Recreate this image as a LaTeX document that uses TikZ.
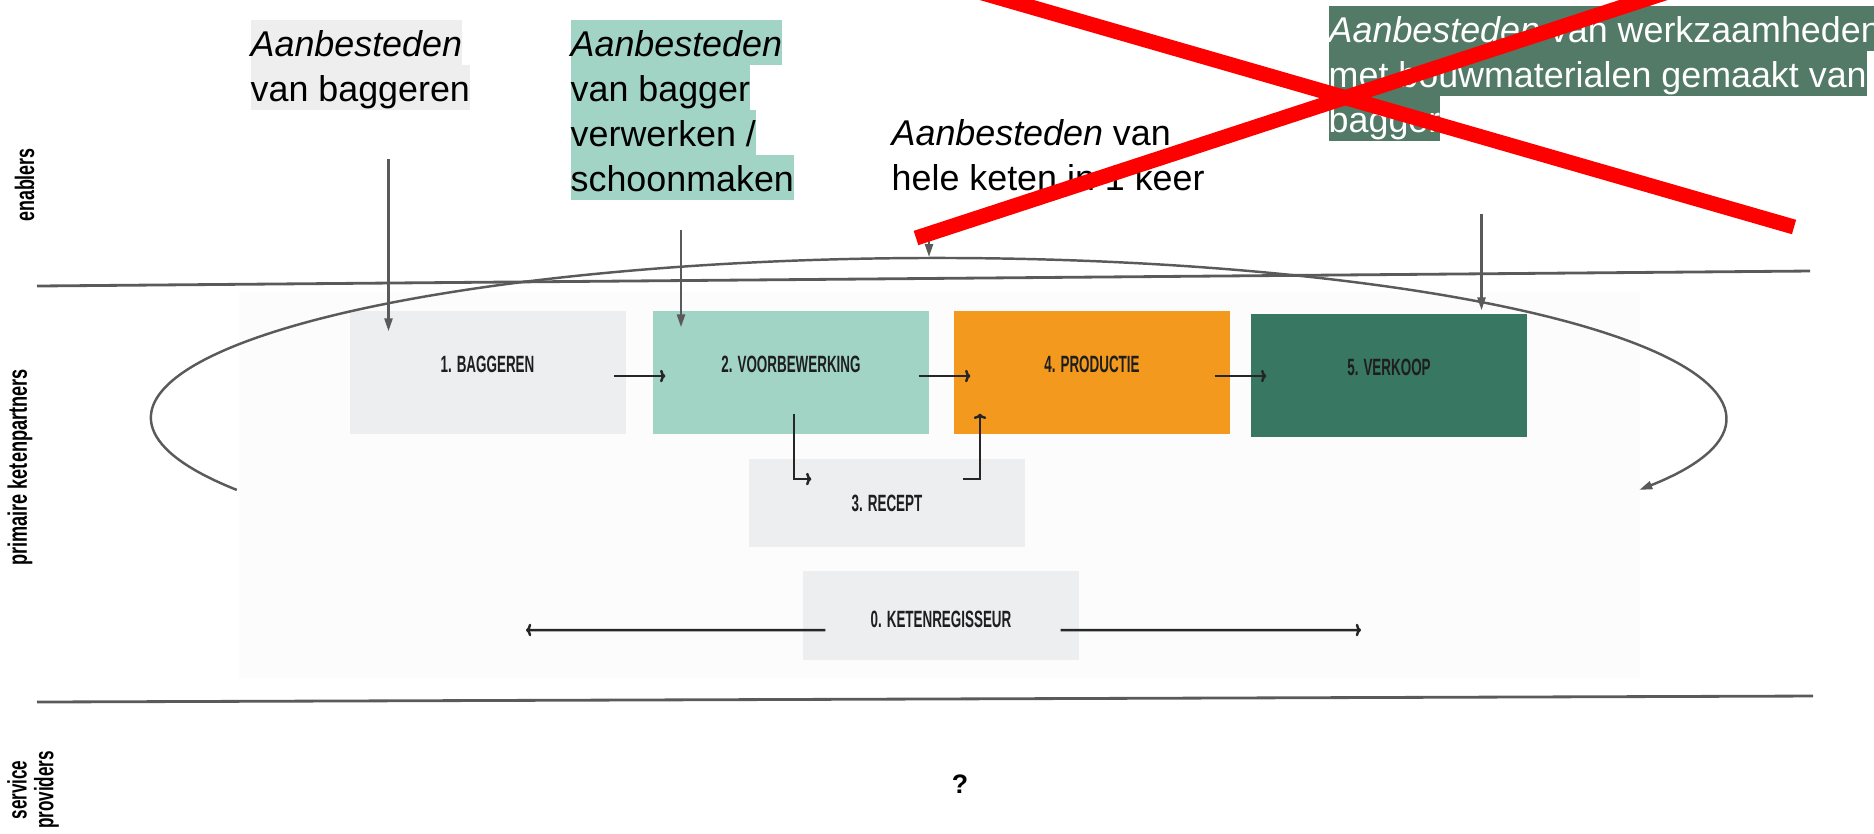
\documentclass[tikz,border=0pt]{standalone}
\usepackage{fontspec}
\setmainfont{Liberation Sans}
\usepackage{graphicx}
\usepackage{tikz}
\usetikzlibrary{calc, arrows.meta}
\usepackage{xcolor}
\definecolor{lichtgrijs}{HTML}{EDEEF0}
\definecolor{mint}{HTML}{A2D4C6}
\definecolor{oranje}{HTML}{F39A1E}
\definecolor{donkergroen}{HTML}{387862}
\definecolor{grijsgroen}{HTML}{527A66}
\definecolor{labelgrijs}{HTML}{EEEEEE}
\definecolor{lijngrijs}{HTML}{5A5A5A}
\definecolor{vlak}{HTML}{FCFCFC}
\definecolor{tekst}{HTML}{1E1E1E}

\newcommand{\tstrut}{\rule[-2.4pt]{0pt}{12.8pt}}
\newcommand{\hl}[2]{{\setlength{\fboxsep}{0pt}\colorbox{#1}{\tstrut#2}}}
\newcommand{\smal}[2]{\scalebox{#1}[1]{#2}}

\begin{document}
\begin{tikzpicture}[
	blok/.style={minimum width=2.76cm, inner sep=0pt, text=tekst, font=\fontsize{6.7}{8}\selectfont\bfseries},
	stap/.style={blok, minimum height=1.23cm, text height=4.8pt, text depth=4.8pt},
	conn/.style={draw=black!85, line width=0.7pt, -{To[length=1.5pt,width=3.6pt]}},
	feed/.style={draw=lijngrijs, line width=0.7pt, -{Triangle[length=1.3mm,width=0.8mm]}},
	kop/.style={inner sep=0pt, anchor=north west, align=left, font=\fontsize{10.2}{12.8}\selectfont},
	zij/.style={rotate=90, inner sep=0pt, align=center, font=\fontsize{7.6}{7.6}\selectfont\bfseries},
	scheiding/.style={draw=lijngrijs, line width=0.8pt},
	kruis/.style={draw=red, line width=0.15cm}]
		\useasboundingbox (0,0) rectangle (18.74,-8.33);
		\fill[vlak] (2.39,-2.92) rectangle (16.40,-6.78);
		\draw[scheiding] (0.37,-2.86) -- (18.10,-2.71);
		\draw[scheiding] (0.37,-7.02) -- (18.13,-6.96);
		% lagen
		\node[zij] (enab) at (0.245,-1.85) {\smal{0.67}{enablers}};
		\node[zij] (prim) at (0.20,-4.675) {\smal{0.68}{primaire ketenpartners}};
		\node[zij] (serv) at (0.33,-7.90) {\smal{0.64}{service}\\\smal{0.64}{providers}};
		\node[font=\fontsize{7.6}{8}\selectfont\bfseries] (vraag) at (9.60,-7.84) {?};
		% stappen in de keten
		\node[stap, fill=lichtgrijs] (b1) at (4.875,-3.725) {\smal{0.57}{1. BAGGEREN}};
		\node[stap, fill=mint] (b2) at (7.91,-3.725) {\smal{0.57}{2. VOORBEWERKING}};
		\node[blok, minimum height=0.88cm, fill=lichtgrijs] (b3) at (8.87,-5.03) {\smal{0.57}{3. RECEPT}};
		\node[stap, fill=oranje] (b4) at (10.92,-3.725) {\smal{0.57}{4. PRODUCTIE}};
		\node[stap, fill=donkergroen] (b5) at (13.89,-3.755) {\smal{0.57}{5. VERKOOP}};
		\node[blok, minimum height=0.89cm, fill=lichtgrijs, text height=7pt, text depth=0pt] (b0) at (9.41,-6.155) {\smal{0.57}{0. KETENREGISSEUR}};
		\draw[conn] ([shift={(-0.12,-0.035)}]b1.east) -- ([shift={(0.13,-0.035)}]b2.west);
		\draw[conn] ([shift={(-0.11,-0.035)}]b2.east) -- ([shift={(0.17,-0.035)}]b4.west);
		\draw[conn] ([shift={(-0.16,-0.035)}]b4.east) -- ([shift={(0.16,-0.005)}]b5.west);
		\draw[conn] ([shift={(0.03,0.21)}]b2.south) |- ([shift={(0.63,0.24)}]b3.west);
		\draw[conn] ([shift={(-0.63,0.24)}]b3.east) -| ([shift={(-1.12,0.21)}]b4.south);
		\coordinate (kl) at (5.26,-6.30);
		\coordinate (kr) at (13.61,-6.30);
		\draw[conn] ([shift={(0.23,-0.145)}]b0.west) -- (kl);
		\draw[conn] ([shift={(-0.19,-0.145)}]b0.east) -- (kr);
		% aanbestedingen
		\node[kop] (l1) at (2.50,-0.19) {\hl{labelgrijs}{\textit{Aanbesteden}}\\\hl{labelgrijs}{van baggeren}};
		\node[kop] (l2) at (5.70,-0.19) {\hl{mint}{\textit{Aanbesteden}}\\\hl{mint}{van bagger}\\\hl{mint}{verwerken /}\\\hl{mint}{schoonmaken}};
		\node[kop] (l3) at (8.91,-1.08) {\tstrut\textit{Aanbesteden} van\\\tstrut hele keten in 1 keer};
		\node[kop, text=white] (l4) at (13.28,-0.05) {\hl{grijsgroen}{\textit{Aanbesteden} van werkzaamheden}\\\hl{grijsgroen}{met bouwmaterialen gemaakt van}\\\hl{grijsgroen}{bagger}};
		\coordinate (t1) at (3.885,-1.59);
		\coordinate (t2) at (6.81,-2.30);
		\coordinate (t3) at (9.29,-2.30);
		\coordinate (t4) at (14.815,-2.14);
		\draw[feed] (t1) -- ($(t1 |- b1.north)+(0,-0.21)$);
		\draw[feed] (t2) -- ($(t2 |- b2.north)+(0,-0.17)$);
		\draw[feed] (t4) -- ($(t4 |- b5.north)+(0,0.03)$);
		\draw[feed] (t3) -- ++(0,-0.27);
		% lus om de hele keten
		\draw[feed] (2.368,-4.899) arc[start angle=207, end angle=-27, x radius=7.87cm, y radius=1.595cm];
		% rood kruis
		\draw[kruis] (9.72,0.10) -- (17.94,-2.27);
		\draw[kruis] (9.16,-2.38) -- (16.74,0.10);
	\end{tikzpicture}
\end{document}
